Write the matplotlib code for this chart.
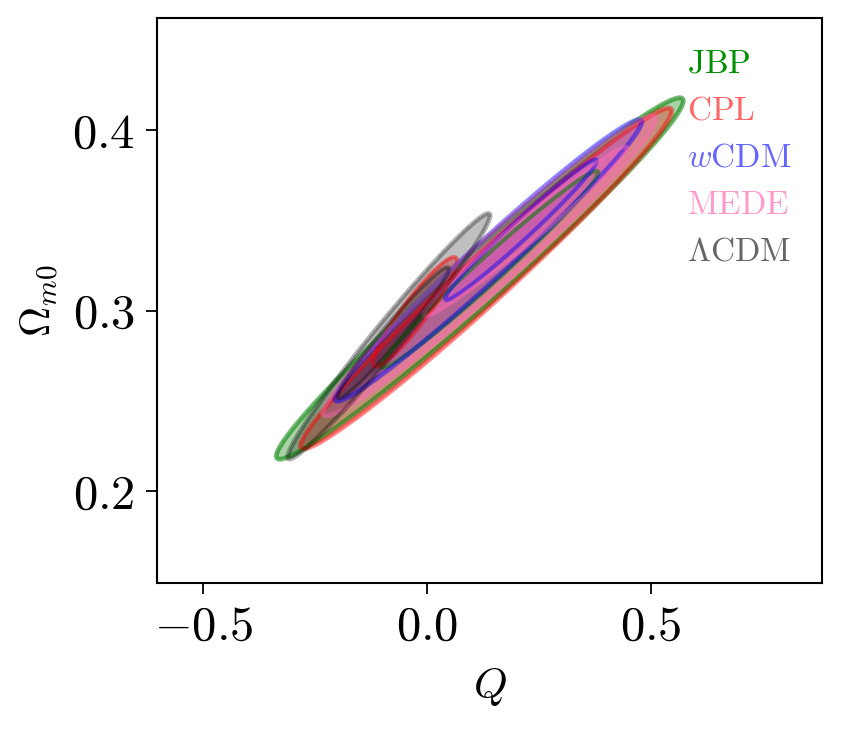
import numpy as np
import matplotlib
matplotlib.use('Agg')
import matplotlib.pyplot as plt
from matplotlib.ticker import FuncFormatter

plt.rcParams['mathtext.fontset'] = 'cm'
plt.rcParams['font.family'] = 'serif'
plt.rcParams['font.serif'] = ['cmr10', 'DejaVu Serif']
plt.rcParams['axes.unicode_minus'] = False

# models, in drawing order
models = [r'$\mathrm{JBP}$', r'$\mathrm{CPL}$', r'$w\mathrm{CDM}$', r'$\mathrm{MEDE}$', r'$\Lambda\mathrm{CDM}$']
colors = ['green', 'red', 'blue', 'hotpink', 'black']
text_colors = ['#009000', '#ff6666', '#6666ff', '#ff99cc', '#666666']
fill_alpha = [0.35, 0.3, 0.25, 0.45, 0.25]
line_alpha = [0.55, 0.45, 0.45, 0.4, 0.3]

# 2 sigma region: mean Q, mean Om, sigma Q, sigma Om, correlation
q2 = [0.118, 0.132, 0.137, 0.140, -0.085]
om2 = [0.318, 0.318, 0.328, 0.325, 0.286]
sq2 = [0.183, 0.167, 0.138, 0.150, 0.091]
som2 = [0.0403, 0.038, 0.0314, 0.0335, 0.0274]
rho2 = [0.983, 0.983, 0.984, 0.979, 0.983]

# 1 sigma region
q1 = [0.14, -0.027, 0.21, 0.22, -0.075]
om1 = [0.323, 0.2995, 0.345, 0.344, 0.288]
sq1 = [0.160, 0.062, 0.112, 0.150, 0.082]
som1 = [0.036, 0.020, 0.0257, 0.031, 0.024]
rho1 = [0.985, 0.93, 0.983, 0.983, 0.975]

lev1 = 2.30
lev2 = 6.17

Q = np.linspace(-0.6, 0.9, 900)
Om = np.linspace(0.14, 0.47, 600)
QQ, OO = np.meshgrid(Q, Om)

def chi2(mq, mo, sq, so, r):
    dq = (QQ - mq) / sq
    do = (OO - mo) / so
    return (dq**2 - 2*r*dq*do + do**2) / (1 - r**2)

fig = plt.figure(figsize=(8.42, 7.41), dpi=100)
ax = fig.add_axes([0.1865, 0.2132, 0.7895, 0.7625])

for i in range(len(models)):
    c2 = chi2(q2[i], om2[i], sq2[i], som2[i], rho2[i])
    c1 = chi2(q1[i], om1[i], sq1[i], som1[i], rho1[i])
    ax.contourf(QQ, OO, c2, levels=[0, lev2], colors=[colors[i]], alpha=fill_alpha[i])
    ax.contourf(QQ, OO, c1, levels=[0, lev1], colors=[colors[i]], alpha=fill_alpha[i])
    ax.contour(QQ, OO, c2, levels=[lev2], colors=[colors[i]], linewidths=3.5, alpha=line_alpha[i])
    ax.contour(QQ, OO, c1, levels=[lev1], colors=[colors[i]], linewidths=3, alpha=line_alpha[i])

for i in range(len(models)):
    ax.text(0.797, 0.918 - 0.083*i, models[i], color=text_colors[i], fontsize=24,
            transform=ax.transAxes, va='center', ha='left')

ax.set_xlim(-0.603, 0.882)
ax.set_ylim(0.1493, 0.4623)
ax.set_xticks([-0.5, 0.0, 0.5])
ax.set_yticks([0.2, 0.3, 0.4])
fmt = FuncFormatter(lambda v, p: r'$%.1f$' % v)
ax.xaxis.set_major_formatter(fmt)
ax.yaxis.set_major_formatter(fmt)
ax.tick_params(labelsize=35, length=8, width=1.3, direction='out', pad=8)
for s in ax.spines.values():
    s.set_linewidth(1.5)
ax.set_xlabel(r'$Q$', fontsize=31, labelpad=12)
ax.set_ylabel(r'$\Omega_{m0}$', fontsize=30, labelpad=8)

plt.savefig('out.png', dpi=100)
